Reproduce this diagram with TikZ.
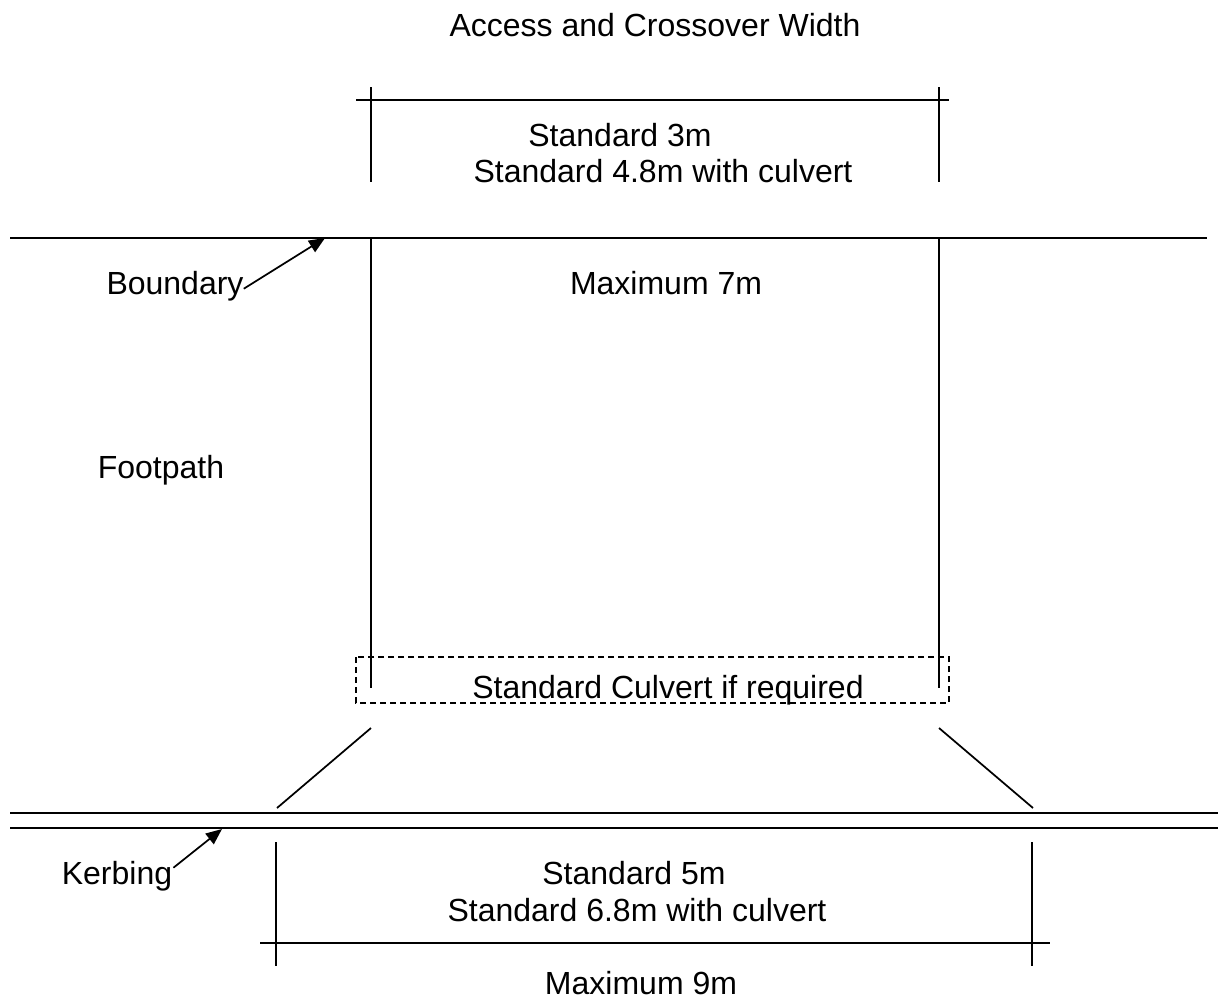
\documentclass[tikz,border=0pt]{standalone}
\usepackage{fontspec}
\setmainfont{Liberation Sans}
\usetikzlibrary{arrows.meta}
\begin{document}
\begin{tikzpicture}[x=0.75pt,y=-0.75pt,
  ln/.style={line width=1.3pt},
  lbl/.style={anchor=base,inner sep=0pt,font=\fontsize{24}{28}\selectfont},
  pointer/.style={line width=1.3pt,-{Triangle[length=12pt,width=10pt]}},
  dashbox/.style={line width=1pt,dash pattern=on 4.5pt off 3pt}]
\useasboundingbox (0,0) rectangle (1227,1001);
% texts
\node[lbl] (title) at (655,36) {Access and Crossover Width};
\node[lbl] (std3) at (620,146) {Standard 3m};
\node[lbl] (std48) at (663,182) {Standard 4.8m with culvert};
\node[lbl] (max7) at (666,294) {Maximum 7m};
\node[lbl] (bound) at (175,294) {Boundary};
\node[lbl] (foot) at (161,478) {Footpath};
\node[lbl] (culv) at (668,698) {Standard Culvert if required};
\node[lbl] (kerb) at (117,884) {Kerbing};
\node[lbl] (std5) at (634,884) {Standard 5m};
\node[lbl] (std68) at (637,921) {Standard 6.8m with culvert};
\node[lbl] (max9) at (641,994) {Maximum 9m};
% top dimension
\draw[ln] (356,100) -- (949,100);
\draw[ln] (371,87) -- (371,182);
\draw[ln] (939,87) -- (939,182);
% boundary line
\draw[ln] (10,238) -- (1207,238);
% crossover sides
\draw[ln] (371,238) -- (371,688);
\draw[ln] (939,238) -- (939,688);
% culvert box
\draw[dashbox] (356,657) rectangle (949,703);
% splays
\draw[ln] (371,728) -- (277,808);
\draw[ln] (939,728) -- (1033,808);
% kerb lines
\draw[ln] (10,813) -- (1218,813);
\draw[ln] (10,828) -- (1218,828);
% lower dimension
\draw[ln] (276,842) -- (276,966);
\draw[ln] (1032,842) -- (1032,966);
\draw[ln] (260,943) -- (1050,943);
% pointers
\coordinate (btip) at (325,238);
\coordinate (ktip) at (222,829);
\draw[pointer] (bound.east) ++(0,3) -- (btip);
\draw[pointer] (kerb.east) ++(1,-8) -- (ktip);
\end{tikzpicture}
\end{document}
